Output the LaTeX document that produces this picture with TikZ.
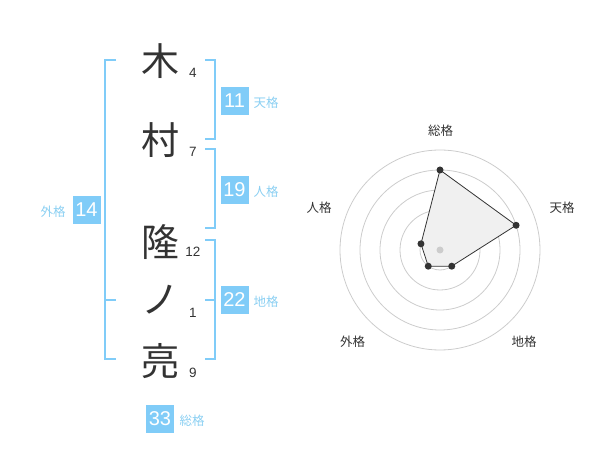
\documentclass[tikz,border=0pt]{standalone}
\usepackage{fontspec}
\setmainfont{Liberation Sans}
\newfontfamily\jp{Noto Sans CJK JP}
\definecolor{kblue}{HTML}{80CCF8}
\definecolor{klabel}{HTML}{8ACFF2}
\definecolor{kdark}{HTML}{333333}
\definecolor{kgrid}{HTML}{CCCCCC}
\definecolor{kfill}{HTML}{F0F0F0}
\begin{document}
\begin{tikzpicture}[x=1pt,y=-1pt,
  kanji/.style={inner sep=0pt,text=kdark,font=\jp\fontsize{38}{38}\selectfont},
  num/.style={inner sep=0pt,text=kdark,font=\fontsize{13.5}{14}\selectfont},
  box/.style={fill=kblue,text=white,inner sep=0pt,minimum size=28pt,font=\fontsize{20}{20}\selectfont},
  lab/.style={inner sep=0pt,text=klabel,font=\jp\fontsize{12.5}{13}\selectfont},
  brk/.style={draw=kblue,line width=1.8pt},
  rlab/.style={inner sep=0pt,text=kdark,font=\jp\fontsize{12.5}{13}\selectfont},
  grid/.style={draw=kgrid,line width=0.8pt},
  dot/.style={circle,fill=kdark,inner sep=0pt,minimum size=7pt}]
\useasboundingbox (0,0) rectangle (600,470);
% kanji
\node[kanji] (k1) at (160,61) {木};
\node[kanji] (k2) at (160,140) {村};
\node[kanji] (k3) at (160,242) {隆};
\node[kanji] (k4) at (160,300) {ノ};
\node[kanji] (k5) at (160,361) {亮};
% stroke counts
\node[num] (n1) at (193,73) {4};
\node[num] (n2) at (193,152) {7};
\node[num] (n3) at (193,252) {12};
\node[num] (n4) at (193,313) {1};
\node[num] (n5) at (193,373) {9};
% brackets
\draw[brk] (116,60) -- (105,60) -- (105,359) -- (116,359);
\draw[brk] (105,300) -- (116,300);
\draw[brk] (205,60) -- (215,60) -- (215,139) -- (205,139);
\draw[brk] (205,149) -- (215,149) -- (215,228) -- (205,228);
\draw[brk] (205,240) -- (215,240) -- (215,359) -- (205,359);
\draw[brk] (205,300) -- (215,300);
% boxes and labels
\node[box] (b1) at (234.5,101) {11};
\node[lab] (l1) at (266,102.5) {天格};
\node[box] (b2) at (234.5,190) {19};
\node[lab] (l2) at (266,192) {人格};
\node[box] (b3) at (234.5,300) {22};
\node[lab] (l3) at (266,302) {地格};
\node[box] (b4) at (86.5,210) {14};
\node[lab] (l4) at (53,212) {外格};
\node[box] (b5) at (160,419) {33};
\node[lab] (l5) at (192,421) {総格};
% radar
\coordinate (c) at (440,250);
\foreach \r in {20,40,60,80,100} \draw[grid] (c) circle[radius=\r];
\coordinate (p1) at ({440+80*cos(90)},{250-80*sin(90)});
\coordinate (p2) at ({440+80*cos(18)},{250-80*sin(18)});
\coordinate (p3) at ({440+20*cos(-54)},{250-20*sin(-54)});
\coordinate (p4) at ({440+20*cos(234)},{250-20*sin(234)});
\coordinate (p5) at ({440+20*cos(162)},{250-20*sin(162)});
\draw[fill=kfill,draw=kdark,line width=0.8pt] (p1) -- (p2) -- (p3) -- (p4) -- (p5) -- cycle;
\node[circle,fill=kgrid,inner sep=0pt,minimum size=7pt] (cd) at (c) {};
\foreach \p in {p1,p2,p3,p4,p5} \node[dot] at (\p) {};
\node[rlab] (r1) at (440.7,130.5) {総格};
\node[rlab] (r2) at (562,208) {天格};
\node[rlab] (r3) at (319,208) {人格};
\node[rlab] (r4) at (352.7,342) {外格};
\node[rlab] (r5) at (524,342) {地格};
\end{tikzpicture}
\end{document}
